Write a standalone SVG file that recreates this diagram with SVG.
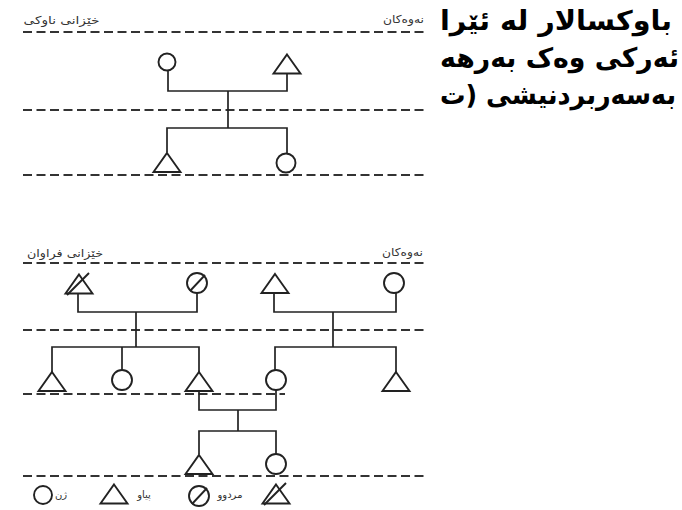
<svg xmlns="http://www.w3.org/2000/svg" xmlns:xlink="http://www.w3.org/1999/xlink" width="682" height="510" viewBox="0 0 682 510">
<style>
.dash{fill:none;stroke:#333;stroke-width:2;stroke-dasharray:9 4.5}
.node{fill:none;stroke:#222;stroke-width:1.9}
.con{fill:none;stroke:#222;stroke-width:1.7}
.lbl{font-family:"DejaVu Sans","Noto Sans",sans-serif;font-size:11px;fill:#333;text-anchor:middle}
.leg{font-family:"DejaVu Sans","Noto Sans",sans-serif;font-size:10px;fill:#333;text-anchor:middle}
.body{font-family:"DejaVu Sans","Noto Sans",sans-serif;font-weight:bold;font-size:27px;fill:#000;text-anchor:end}
</style>
<defs>
<path id="tri" d="M0,-9.5 L13.5,9.5 L-13.5,9.5 Z"/>
</defs>
<rect width="682" height="510" fill="#fff"/>

<g id="guides">
<line class="dash" x1="23" y1="32" x2="426" y2="32"/>
<line class="dash" x1="23" y1="110" x2="426" y2="110"/>
<line class="dash" x1="23" y1="175" x2="426" y2="175"/>
<line class="dash" x1="23" y1="263" x2="426" y2="263"/>
<line class="dash" x1="23" y1="330" x2="426" y2="330"/>
<line class="dash" x1="23" y1="394" x2="285" y2="394"/>
<line class="dash" x1="23" y1="476" x2="426" y2="476"/>
</g>

<g id="labels">
<text class="lbl" x="61.5" y="24" textLength="76" lengthAdjust="spacingAndGlyphs">خێزانی ناوکی</text>
<text class="lbl" x="403.5" y="23" textLength="41" lengthAdjust="spacingAndGlyphs">نەوەکان</text>
<text class="lbl" x="65" y="257" textLength="76" lengthAdjust="spacingAndGlyphs">خێزانی فراوان</text>
<text class="lbl" x="402.5" y="256" textLength="41" lengthAdjust="spacingAndGlyphs">نەوەکان</text>
</g>

<g id="connectors" class="con">
<path d="M168,70.5 V91 H287 V73.5"/>
<path d="M228,91 V128"/>
<path d="M167,152.5 V128 H287 V153.5"/>
<path d="M78,293.5 V312 H197 V293"/>
<path d="M136,312 V347"/>
<path d="M52,372.5 V347 H199 V372.5"/>
<path d="M122,347 V370"/>
<path d="M274,293.5 V312 H396 V293"/>
<path d="M333,312 V347"/>
<path d="M275,370 V347 H396 V372.5"/>
<path d="M199,390.5 V410 H276 V390"/>
<path d="M238,410 V431"/>
<path d="M199,454.5 V431 H276 V454"/>
</g>

<g id="n-top-mother" class="node"><circle cx="167" cy="62" r="8.5"/></g>
<g id="n-top-father" class="node"><use xlink:href="#tri" x="287" y="64"/></g>
<g id="n-top-son" class="node"><use xlink:href="#tri" x="167" y="162.5"/></g>
<g id="n-top-daughter" class="node"><circle cx="286" cy="163" r="9.5"/></g>

<g id="n-gf1" class="node"><use xlink:href="#tri" x="79" y="284"/><line x1="67" y1="295" x2="89" y2="273"/></g>
<g id="n-gm1" class="node"><circle cx="197" cy="283" r="10"/><line x1="190" y1="291" x2="205" y2="275"/></g>
<g id="n-gf2" class="node"><use xlink:href="#tri" x="275" y="283.5"/></g>
<g id="n-gm2" class="node"><circle cx="394" cy="283" r="10"/></g>

<g id="n-c1" class="node"><use xlink:href="#tri" x="52" y="381.5"/></g>
<g id="n-c2" class="node"><circle cx="122" cy="380" r="10"/></g>
<g id="n-c3" class="node"><use xlink:href="#tri" x="199" y="381.5"/></g>
<g id="n-c4" class="node"><circle cx="276" cy="380" r="10"/></g>
<g id="n-c5" class="node"><use xlink:href="#tri" x="396" y="381.5"/></g>

<g id="n-g1" class="node"><use xlink:href="#tri" x="199" y="464.5"/></g>
<g id="n-g2" class="node"><circle cx="276" cy="464" r="10"/></g>

<g id="legend">
<g id="leg-woman" class="node"><circle cx="43" cy="495" r="9"/></g>
<text class="leg" x="61" y="498">ژن</text>
<g id="leg-man" class="node"><use xlink:href="#tri" x="114" y="494"/></g>
<text class="leg" x="144" y="498">پیاو</text>
<g id="leg-dead-f" class="node"><circle cx="199" cy="496" r="10"/><line x1="192" y1="504" x2="207" y2="488"/></g>
<text class="leg" x="230" y="498">مردوو</text>
<g id="leg-dead-m" class="node"><use xlink:href="#tri" x="276" y="494"/><line x1="264" y1="505" x2="286" y2="483"/></g>
</g>

<g id="body-text" class="body">
<text x="672" y="30" textLength="232" lengthAdjust="spacingAndGlyphs">باوکسالار له ئێرا</text>
<text x="679" y="67" textLength="239" lengthAdjust="spacingAndGlyphs">ئەرکی وەک بەرهە</text>
<text x="676" y="104" textLength="236" lengthAdjust="spacingAndGlyphs">بەسەربردنیشی (ت</text>
</g>
</svg>
